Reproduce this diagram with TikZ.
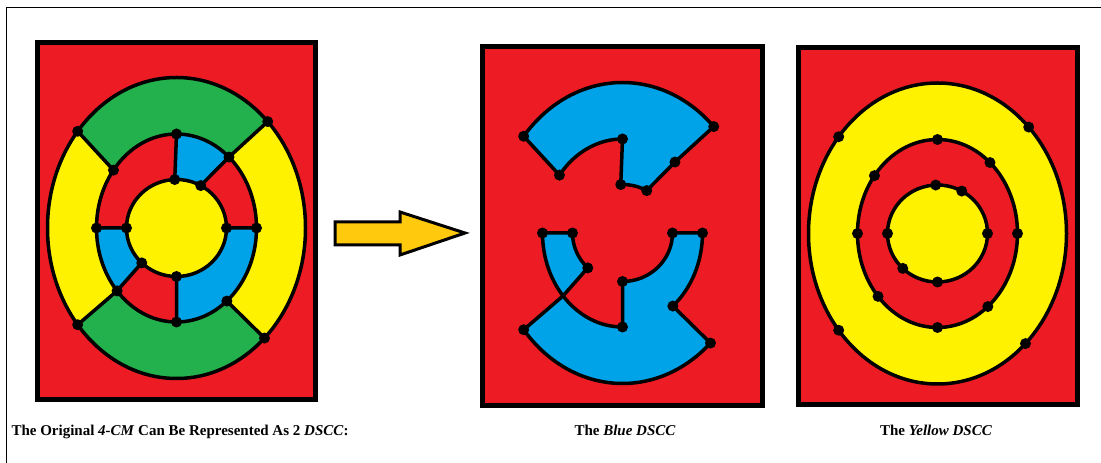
\documentclass[tikz,border=0pt]{standalone}
\usepackage{fontspec}
\setmainfont{Liberation Serif}
\usepackage{tikz}
\usetikzlibrary{calc}
\definecolor{paintred}  {HTML}{ED1C24}
\definecolor{paintgreen}{HTML}{22B14C}
\definecolor{paintyel}  {HTML}{FFF200}
\definecolor{paintblue} {HTML}{00A2E8}
\definecolor{paintgold} {HTML}{FFC90E}

% ring radii (px)
\def\ox{129}\def\oy{150.5}
\def\mx{80}\def\my{94}
\def\ix{50}\def\iy{48.5}

% dots of one panel, named <prefix>o.., <prefix>m.., <prefix>i..
\newcommand{\ringpts}[1]{%
  \foreach \n/\a in {ul/140,ur/45,ll/220,lr/313}
    \coordinate (#1o\n) at (\a:\ox pt and \oy pt);
  \foreach \n/\a in {ul/142,ur/49,ll/222,lr/309,t/90,b/270,l/180,r/0}
    \coordinate (#1m\n) at (\a:\mx pt and \my pt);
  \foreach \n/\a in {t/92,ur/61,l/180,r/0,ll/226,b/270}
    \coordinate (#1i\n) at (\a:\ix pt and \iy pt);}

\begin{document}
\begin{tikzpicture}[x=1pt,y=1pt,
  ringO/.style={x radius=\ox pt,y radius=\oy pt},
  ringM/.style={x radius=\mx pt,y radius=\my pt},
  ringI/.style={x radius=\ix pt,y radius=\iy pt},
  panel/.style={draw=black,line width=5pt,fill=paintred},
  edge/.style={draw=black,line width=3.5pt,line join=round},
  piece/.style={edge,fill=paintblue},
  dot/.style={fill=black},
  caption/.style={font=\fontsize{15}{18}\selectfont\bfseries,anchor=base}]

\useasboundingbox (0,0) rectangle (1101,463);
\draw[line width=1pt] (6,0) -- (6,455) -- (1101,455);

% --- panel 1: the original map
\draw[panel] (37.5,63.5) rectangle (315.5,420.5);
\begin{scope}[shift={(176.5,235)}]
  \ringpts{a}
  \fill[paintgreen] (0,0) ellipse[ringO];
  \fill[paintyel] (aoul) arc[ringO,start angle=140,end angle=220]
    -- (amll) arc[ringM,start angle=222,end angle=142] -- cycle;
  \fill[paintyel] (aolr) arc[ringO,start angle=-47,end angle=45]
    -- (amur) arc[ringM,start angle=49,end angle=-51] -- cycle;
  \fill[paintred] (0,0) ellipse[ringM];
  \fill[paintblue] (amt) arc[ringM,start angle=90,end angle=49]
    -- (aiur) arc[ringI,start angle=61,end angle=92] -- cycle;
  \fill[paintblue] (amr) arc[ringM,start angle=0,end angle=-90]
    -- (aib) arc[ringI,start angle=-90,end angle=0] -- cycle;
  \fill[paintblue] (aml) arc[ringM,start angle=180,end angle=222]
    -- (aill) arc[ringI,start angle=226,end angle=180] -- cycle;
  \fill[paintyel] (0,0) ellipse[ringI];
  \draw[edge] (0,0) ellipse[ringO] (0,0) ellipse[ringM] (0,0) ellipse[ringI];
  \draw[edge] (aoul) -- (amul) (aour) -- (amur) -- (aiur)
    (aoll) -- (amll) -- (aill) (aolr) -- (amlr)
    (amt) -- (ait) (amb) -- (aib) (aml) -- (ail) (amr) -- (air);
  \foreach \p in {oul,our,oll,olr,mul,mur,mll,mlr,mt,mb,ml,mr,it,iur,il,ir,ill,ib}
    \fill[dot] (a\p) circle (5.5);
\end{scope}

% --- arrow
\draw[line width=3pt,line join=miter,fill=paintgold]
  (335,218) -- (400,218) -- (400,208) -- (465,230)
  -- (400,251) -- (400,241) -- (335,241) -- cycle;

% --- panel 2: the blue DSCC
\draw[panel] (482.5,57.5) rectangle (762.5,416.5);
\begin{scope}[shift={(622.5,230)}]
  \ringpts{b}
  \draw[piece] (bour) arc[ringO,start angle=45,end angle=140]
    -- (bmul) arc[ringM,start angle=142,end angle=90]
    -- (bit) arc[ringI,start angle=92,end angle=61]
    -- (bmur) -- cycle;
  \draw[piece] (boll) arc[ringO,start angle=220,end angle=313]
    -- (bmlr) arc[ringM,start angle=309,end angle=360]
    -- (bir) arc[ringI,start angle=0,end angle=-90]
    -- (bmb) arc[ringM,start angle=270,end angle=180]
    -- (bil) arc[ringI,start angle=180,end angle=226]
    -- (bmll) -- cycle;
  \foreach \p in {oul,our,oll,olr,mul,mur,mlr,mt,mb,ml,mr,it,iur,il,ir,ill,ib}
    \fill[dot] (b\p) circle (5.5);
\end{scope}

% --- panel 3: the yellow DSCC
\draw[panel] (798.5,58.5) rectangle (1077.5,415.5);
\begin{scope}[shift={(937.5,229.5)}]
  \ringpts{c}
  \draw[edge,fill=paintyel] (0,0) ellipse[ringO];
  \draw[edge,fill=paintred] (0,0) ellipse[ringM];
  \draw[edge,fill=paintyel] (0,0) ellipse[ringI];
  \foreach \p in {oul,our,oll,olr,mul,mur,mll,mlr,mt,mb,ml,mr,it,iur,il,ir,ill,ib}
    \fill[dot] (c\p) circle (5.5);
\end{scope}

% --- captions
\node[caption,anchor=base west] (cap1) at (8,27)
  {The Original \textit{4-CM} Can Be Represented As 2 \textit{DSCC}:};
\node[caption] (cap2) at (625,27) {The \textit{Blue DSCC}};
\node[caption] (cap3) at (936,27) {The \textit{Yellow DSCC}};
\end{tikzpicture}
\end{document}
